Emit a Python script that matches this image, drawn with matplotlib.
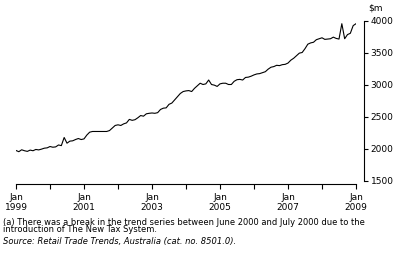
import matplotlib
matplotlib.use("Agg")
import matplotlib.pyplot as plt
import numpy as np

# Monthly trend values ($m), Jan 1999 - Jan 2009
values = [
    1969, 1950, 1980, 1965, 1955, 1975, 1965, 1985, 1978, 1990, 2005, 2010,   # 1999
    2031, 2020, 2025, 2055, 2045, 2172, 2083, 2115, 2120, 2140, 2156, 2140,   # 2000
    2150, 2210, 2255, 2266, 2266, 2266, 2266, 2266, 2266, 2280, 2320, 2360,   # 2001
    2370, 2360, 2385, 2400, 2455, 2440, 2450, 2480, 2515, 2505, 2542, 2550,   # 2002
    2555, 2550, 2560, 2610, 2630, 2635, 2690, 2710, 2760, 2810, 2860, 2890,   # 2003
    2900, 2905, 2890, 2940, 2980, 3020, 3000, 3010, 3070, 3000, 2990, 2970,   # 2004
    3010, 3020, 3020, 3000, 3000, 3050, 3075, 3080, 3070, 3110, 3115, 3130,   # 2005
    3150, 3165, 3170, 3185, 3200, 3240, 3270, 3280, 3300, 3295, 3310, 3315,   # 2006
    3335, 3380, 3410, 3450, 3490, 3500, 3560, 3630, 3650, 3660, 3700, 3715,   # 2007
    3730, 3705, 3710, 3715, 3740, 3720, 3710, 3950, 3715, 3780, 3800, 3920,   # 2008
    3950,                                                                      # 2009
]
months = np.arange(len(values))
tick_years = ["1999", "2001", "2003", "2005", "2007", "2009"]
y_ticks = [1500, 2000, 2500, 3000, 3500, 4000]

W, H = 397, 265
fig = plt.figure(figsize=(W / 100, H / 100), dpi=100)
plt.rcParams['font.family'] = ['DejaVu Sans']

x0, x1 = 16, 356
ytop, ybot = 20.5, 183.5
ax = fig.add_axes([x0 / W, (H - ybot) / H, (x1 - x0) / W, (ybot - ytop) / H])

ax.plot(months, values, color="black", lw=0.8)

ax.set_xlim(0, 120)
scale = (180.5 - 20.5) / 2500.0
ymin = 4000 - (ybot - ytop) / scale
ax.set_ylim(ymin, 4000)

for s in ["top", "left"]:
    ax.spines[s].set_visible(False)
ax.spines["right"].set_position(("outward", 6))
ax.spines["right"].set_bounds(1500, 4000)
ax.spines["right"].set_linewidth(0.8)
ax.spines["bottom"].set_linewidth(0.8)

ax.yaxis.tick_right()
ax.set_yticks(y_ticks)
ax.set_yticklabels([str(v) for v in y_ticks])
ax.tick_params(axis="y", direction="out", length=3, width=0.8, pad=1.5, labelsize=6.5)

ax.set_xticks(np.arange(0, 121, 24))
ax.set_xticklabels(["Jan\n" + y for y in tick_years], linespacing=1.25)
ax.set_xticks(np.arange(0, 121, 12), minor=True)
ax.tick_params(axis="x", which="both", direction="out", length=3.5, width=0.8, pad=3, labelsize=6.5)

fig.text(368 / W, 1 - 8 / H, "$m", fontsize=6.5, va="center", ha="left")

fig.text(3 / W, 1 - 222.5 / H,
         "(a) There was a break in the trend series between June 2000 and July 2000 due to the",
         fontsize=6, va="center", ha="left")
fig.text(3 / W, 1 - 230 / H, "introduction of The New Tax System.",
         fontsize=6, va="center", ha="left")
fig.text(3 / W, 1 - 241.5 / H, "Source: Retail Trade Trends, Australia (cat. no. 8501.0).",
         fontsize=6, va="center", ha="left", style="italic")

fig.savefig("out.png", dpi=100)
